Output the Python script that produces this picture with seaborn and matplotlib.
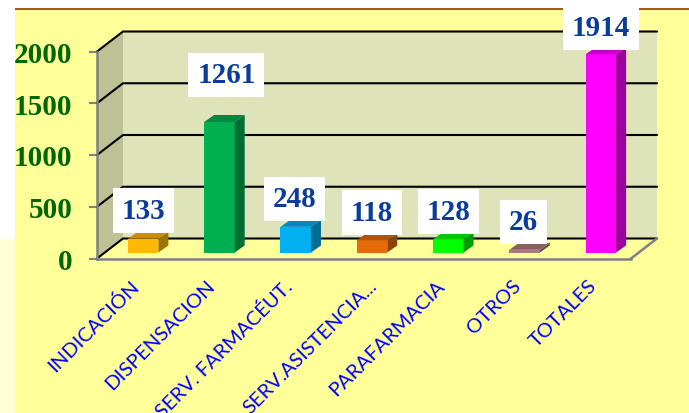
import matplotlib
matplotlib.use("Agg")
import matplotlib.pyplot as plt
from matplotlib.patches import Polygon, Rectangle
from matplotlib.colors import to_rgb
from matplotlib.transforms import IdentityTransform, Affine2D
import pandas as pd
import seaborn as sns

categories = ["INDICACIÓN", "DISPENSACION", "SERV. FARMACÉUT.", "SERV.ASISTENCIA...",
              "PARAFARMACIA", "OTROS", "TOTALES"]
values = [133, 1261, 248, 118, 128, 26, 1914]
bar_colors = ["#FFB900", "#00B050", "#00B0F0", "#E36C09", "#00FF00", "#B07878", "#FF00FF"]
y_ticks = [0, 500, 1000, 1500, 2000]

# label offsets from the top centre of each bar, in pixels
label_dx = [0, 7, -1, 0, 0, -1, 0]
label_dy = [28, 47, 28, 28, 28, 28, 27]
# horizontal shift of each category label, in pixels
cat_dx = [-13, -13, -13, -4, -13, -13, -13]

W, H = 689, 414
DX, DY = 26, 20          # depth of the chart box
BX, BY = 10, 7           # depth of each bar

sns.set_style("white")
plt.rcParams["font.family"] = ["Liberation Serif", "DejaVu Serif"]
fig = plt.figure(figsize=(W / 100, H / 100), dpi=100, facecolor="white")


def axes_px(x0, y_top, x1, y_bottom):
    return [x0 / W, 1 - y_bottom / H, (x1 - x0) / W, (y_bottom - y_top) / H]


# slide background
ident = IdentityTransform()
fig.add_artist(Rectangle((0, 0), 15, H - 240, transform=ident, fc="#FFFFD6", ec="none", zorder=-5))
fig.add_artist(Rectangle((15, 0), W - 15, H - 10, transform=ident, fc="#FFFF99", ec="none", zorder=-5))
fig.add_artist(Rectangle((15, H - 11), W - 15, 2, transform=ident, fc="#A8591C", ec="none", zorder=-4))

# frame: axis, walls, gridlines
frame = fig.add_axes(axes_px(97, 52.5, 631, 259.5), zorder=1)
frame.patch.set_visible(False)
frame.set_xlim(0, 1)
frame.set_ylim(0, 2000)
frame.set_xticks([])
frame.set_yticks(y_ticks)
frame.tick_params(axis="y", left=True, length=5.8, width=1.5, color="#808080", pad=12,
                  labelsize=21, labelcolor="#006600")
for lab in frame.get_yticklabels():
    lab.set_fontweight("bold")
for side in ("top", "right"):
    frame.spines[side].set_visible(False)
for side in ("left", "bottom"):
    frame.spines[side].set_color("#808080")
    frame.spines[side].set_linewidth(1.8)
    frame.spines[side].set_zorder(6)

(lx, by), (rx, ty) = frame.transData.transform([(0, 0), (1, 2000)])
frame.add_patch(Polygon([(lx + DX, by + DY), (rx + DX, by + DY), (rx + DX, ty + DY), (lx + DX, ty + DY)],
                        transform=ident, fc="#DFE3BA", ec="none", clip_on=False, zorder=1))
frame.add_patch(Polygon([(lx, by), (lx + DX, by + DY), (lx + DX, ty + DY), (lx, ty)],
                        transform=ident, fc="#BEC096", ec="none", clip_on=False, zorder=1))
for v in y_ticks:
    _, yy = frame.transData.transform((0, v))
    frame.plot([lx, lx + DX, rx + DX], [yy, yy + DY, yy + DY], transform=ident, color="black",
               lw=1.5, clip_on=False, zorder=2, solid_joinstyle="miter")
frame.plot([rx, rx + DX], [by, by + DY], transform=ident, color="#808080", lw=1.8, clip_on=False, zorder=2)

# bars: same scale, base raised 6 px and shifted to sit on the floor
ax = fig.add_axes(axes_px(105, 46.5, 639, 253.5), zorder=2)
df = pd.DataFrame({"category": categories, "value": values})
sns.barplot(data=df, x="category", y="value", hue="category", order=categories, hue_order=categories,
            palette=dict(zip(categories, bar_colors)), width=0.4, saturation=1, legend=False,
            linewidth=0, edgecolor="none", ax=ax)
ax.patch.set_visible(False)
ax.set_xlim(-0.5, 6.5)
ax.set_ylim(0, 2000)
ax.set_xlabel("")
ax.set_ylabel("")
ax.set_yticks([])
ax.set_xticks(range(len(categories)))
ax.set_xticklabels(categories, rotation=45, ha="right", va="top", rotation_mode="anchor",
                   family="Lato", fontsize=14.5, color="#0000FF")
ax.tick_params(axis="x", bottom=False, pad=13.5)
for lab, shift in zip(ax.get_xticklabels(), cat_dx):
    lab.set_transform(lab.get_transform() + Affine2D().translate(shift, 0))
sns.despine(ax=ax, left=True, bottom=True)

for bar in list(ax.patches):
    if bar.get_height() == 0:
        continue
    (x0, y0), (x1, y1) = ax.transData.transform([(bar.get_x(), 0),
                                                 (bar.get_x() + bar.get_width(), bar.get_height())])
    base = to_rgb(bar.get_facecolor()[:3])
    side = tuple(c * 0.62 for c in base)
    top = tuple(c * 0.78 for c in base)
    ax.add_patch(Polygon([(x1, y0), (x1 + BX, y0 + BY), (x1 + BX, y1 + BY), (x1, y1)],
                         transform=ident, fc=side, ec="none", clip_on=False, zorder=3))
    ax.add_patch(Polygon([(x0, y1), (x1, y1), (x1 + BX, y1 + BY), (x0 + BX, y1 + BY)],
                         transform=ident, fc=top, ec="none", clip_on=False, zorder=3))

for i, v in enumerate(values):
    ax.annotate(str(v), xy=(i, v), xytext=(label_dx[i], label_dy[i]), textcoords="offset pixels",
                ha="center", va="center", fontsize=21, fontweight="bold", color="#0A3C9C",
                annotation_clip=False, zorder=8,
                bbox=dict(boxstyle="square,pad=0.3", fc="white", ec="none"))

fig.savefig("out.png", dpi=100, facecolor=fig.get_facecolor())
